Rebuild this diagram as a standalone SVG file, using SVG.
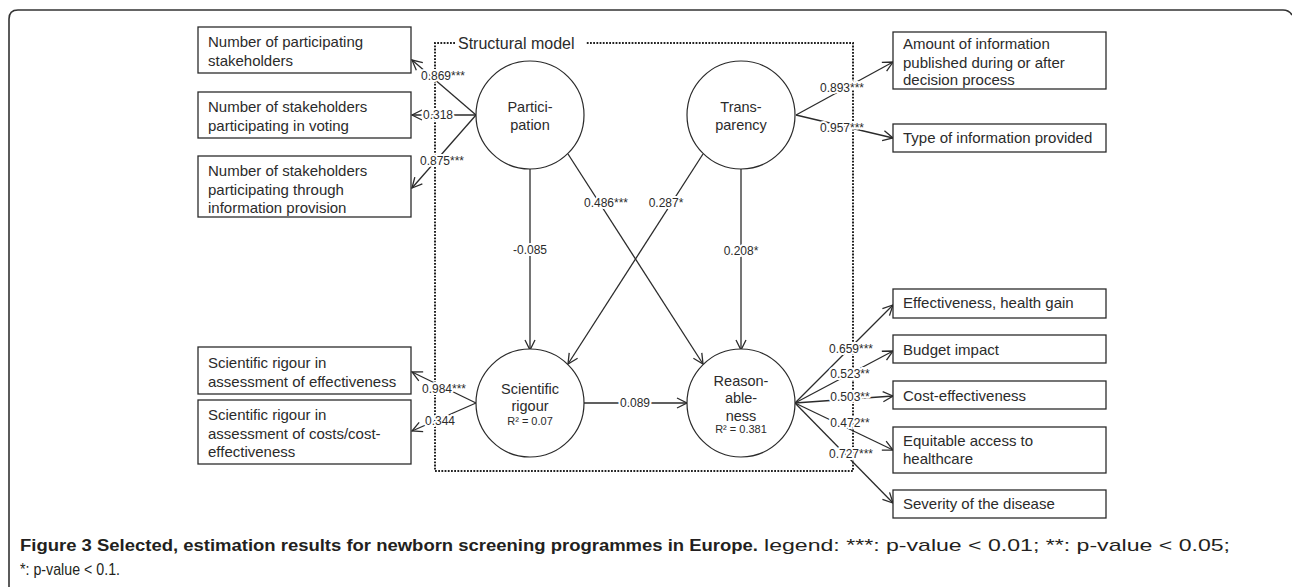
<svg xmlns="http://www.w3.org/2000/svg" width="1292" height="587" viewBox="0 0 1292 587">
<style>
  .box{fill:#fff;stroke:#2b2b2b;stroke-width:1.3}
  .circ{fill:#fff;stroke:#2b2b2b;stroke-width:1.2}
  .bt{font-family:"Liberation Sans",Arial,sans-serif;font-size:15px;fill:#2b2b2b}
  .ct{font-family:"Liberation Sans",Arial,sans-serif;font-size:14.5px;fill:#2b2b2b;text-anchor:middle}
  .r2{font-family:"Liberation Sans",Arial,sans-serif;font-size:11px;fill:#2b2b2b;text-anchor:middle}
  .lb{font-family:"Liberation Sans",Arial,sans-serif;font-size:12px;fill:#2b2b2b;text-anchor:middle;stroke:#fff;stroke-width:4;paint-order:stroke;stroke-linejoin:round}
  .ln{fill:none;stroke:#2b2b2b;stroke-width:1.3;marker-end:url(#ah)}
  .dot{fill:none;stroke:#222;stroke-width:2;stroke-dasharray:1.8 1.4}
  .cap{font-family:"Liberation Sans",Arial,sans-serif;font-size:16px;fill:#231f20}
</style>
<defs>
  <marker id="ah" markerUnits="userSpaceOnUse" markerWidth="14" markerHeight="14" viewBox="-12 -7 14 14" refX="0" refY="0" orient="auto">
    <path d="M-10,-5 L0,0 L-10,5" fill="none" stroke="#2b2b2b" stroke-width="1.3"/>
  </marker>
</defs>
<rect width="1292" height="587" fill="#fff"/>
<path d="M9,587 L9,19 Q9,10 18,10 L1283,10 Q1289,10 1292,15" fill="none" stroke="#333" stroke-width="1.6"/>

<g id="structural-model">
  <path class="dot" d="M455,43 L435,43 L435,471 L853,471 L853,43 L586,43"/>
  <text x="458" y="49" class="bt" style="font-size:16px">Structural model</text>
</g>

<g id="connectors">
  <path class="ln" d="M476,115 L412,60"/>
  <path class="ln" d="M476,115 L412,115"/>
  <path class="ln" d="M476,115 L412,188"/>
  <path class="ln" d="M796,115 L893,62"/>
  <path class="ln" d="M796,115 L893,138"/>
  <path class="ln" d="M530,169 L530,350"/>
  <path class="ln" d="M741,169 L741,350"/>
  <path class="ln" d="M568,154 L703,364"/>
  <path class="ln" d="M703,154 L568,364"/>
  <path class="ln" d="M584,403 L687,403"/>
  <path class="ln" d="M476,403 L412,372"/>
  <path class="ln" d="M476,403 L412,431"/>
  <path class="ln" d="M795,403 L893,305"/>
  <path class="ln" d="M795,403 L893,351"/>
  <path class="ln" d="M795,403 L893,396"/>
  <path class="ln" d="M795,403 L893,450"/>
  <path class="ln" d="M795,403 L893,503"/>
  <text class="lb" x="443" y="80">0.869***</text>
  <text class="lb" x="438" y="119">0.318</text>
  <text class="lb" x="442" y="165">0.875***</text>
  <text class="lb" x="842" y="92">0.893***</text>
  <text class="lb" x="842" y="132">0.957***</text>
  <text class="lb" x="530" y="254">-0.085</text>
  <text class="lb" x="741" y="255">0.208*</text>
  <text class="lb" x="606" y="207">0.486***</text>
  <text class="lb" x="666" y="207">0.287*</text>
  <text class="lb" x="635" y="407">0.089</text>
  <text class="lb" x="444" y="393">0.984***</text>
  <text class="lb" x="440" y="425">0.344</text>
  <text class="lb" x="851" y="353">0.659***</text>
  <text class="lb" x="850" y="378">0.523**</text>
  <text class="lb" x="850" y="401">0.503**</text>
  <text class="lb" x="850" y="427">0.472**</text>
  <text class="lb" x="851" y="458">0.727***</text>
</g>

<g id="participation">
  <circle class="circ" cx="530" cy="115" r="54"/>
  <text class="ct" x="530" y="112">Partici-</text>
  <text class="ct" x="530" y="130">pation</text>
</g>
<g id="transparency">
  <circle class="circ" cx="741" cy="115" r="54"/>
  <text class="ct" x="741" y="112">Trans-</text>
  <text class="ct" x="741" y="130">parency</text>
</g>
<g id="scientific-rigour">
  <circle class="circ" cx="530" cy="403" r="54"/>
  <text class="ct" x="530" y="394">Scientific</text>
  <text class="ct" x="530" y="411">rigour</text>
  <text class="r2" x="530" y="425">R² = 0.07</text>
</g>
<g id="reasonableness">
  <circle class="circ" cx="741" cy="403" r="54"/>
  <text class="ct" x="741" y="386">Reason-</text>
  <text class="ct" x="741" y="403">able-</text>
  <text class="ct" x="741" y="421">ness</text>
  <text class="r2" x="741" y="433">R² = 0.381</text>
</g>

<g id="box-participating-stakeholders">
  <rect class="box" x="198" y="27" width="213" height="46"/>
  <text class="bt" x="208" y="47">Number of participating</text>
  <text class="bt" x="208" y="66">stakeholders</text>
</g>
<g id="box-voting">
  <rect class="box" x="198" y="92" width="213" height="46"/>
  <text class="bt" x="208" y="112">Number of stakeholders</text>
  <text class="bt" x="208" y="131">participating in voting</text>
</g>
<g id="box-information-provision">
  <rect class="box" x="198" y="156" width="213" height="61"/>
  <text class="bt" x="208" y="176">Number of stakeholders</text>
  <text class="bt" x="208" y="194.5">participating through</text>
  <text class="bt" x="208" y="213">information provision</text>
</g>
<g id="box-rigour-effectiveness">
  <rect class="box" x="198" y="347" width="213" height="47"/>
  <text class="bt" x="208" y="368">Scientific rigour in</text>
  <text class="bt" x="208" y="387">assessment of effectiveness</text>
</g>
<g id="box-rigour-costs">
  <rect class="box" x="198" y="400" width="213" height="64"/>
  <text class="bt" x="208" y="420">Scientific rigour in</text>
  <text class="bt" x="208" y="438.5">assessment of costs/cost-</text>
  <text class="bt" x="208" y="457">effectiveness</text>
</g>
<g id="box-amount-information">
  <rect class="box" x="893" y="32" width="213" height="57"/>
  <text class="bt" x="903" y="49">Amount of information</text>
  <text class="bt" x="903" y="67.5">published during or after</text>
  <text class="bt" x="903" y="85">decision process</text>
</g>
<g id="box-type-information">
  <rect class="box" x="893" y="124" width="213" height="28"/>
  <text class="bt" x="903" y="143">Type of information provided</text>
</g>
<g id="box-effectiveness">
  <rect class="box" x="893" y="289" width="213" height="29"/>
  <text class="bt" x="903" y="308">Effectiveness, health gain</text>
</g>
<g id="box-budget">
  <rect class="box" x="893" y="335" width="213" height="28"/>
  <text class="bt" x="903" y="355">Budget impact</text>
</g>
<g id="box-cost-effectiveness">
  <rect class="box" x="893" y="381" width="213" height="28"/>
  <text class="bt" x="903" y="401">Cost-effectiveness</text>
</g>
<g id="box-equitable">
  <rect class="box" x="893" y="427" width="213" height="46"/>
  <text class="bt" x="903" y="446">Equitable access to</text>
  <text class="bt" x="903" y="464">healthcare</text>
</g>
<g id="box-severity">
  <rect class="box" x="893" y="490" width="213" height="28"/>
  <text class="bt" x="903" y="509">Severity of the disease</text>
</g>

<g id="caption">
  <text class="cap" x="20" y="551" font-weight="bold" textLength="738" lengthAdjust="spacingAndGlyphs">Figure 3 Selected, estimation results for newborn screening programmes in Europe.</text>
  <text class="cap" x="764" y="551" style="font-size:17px" textLength="466" lengthAdjust="spacingAndGlyphs" fill="#3a3a3a">legend: ***: p-value &lt; 0.01; **: p-value &lt; 0.05;</text>
  <text class="cap" x="20" y="575" style="font-size:17px" textLength="100" lengthAdjust="spacingAndGlyphs" fill="#3a3a3a">*: p-value &lt; 0.1.</text>
</g>
</svg>
